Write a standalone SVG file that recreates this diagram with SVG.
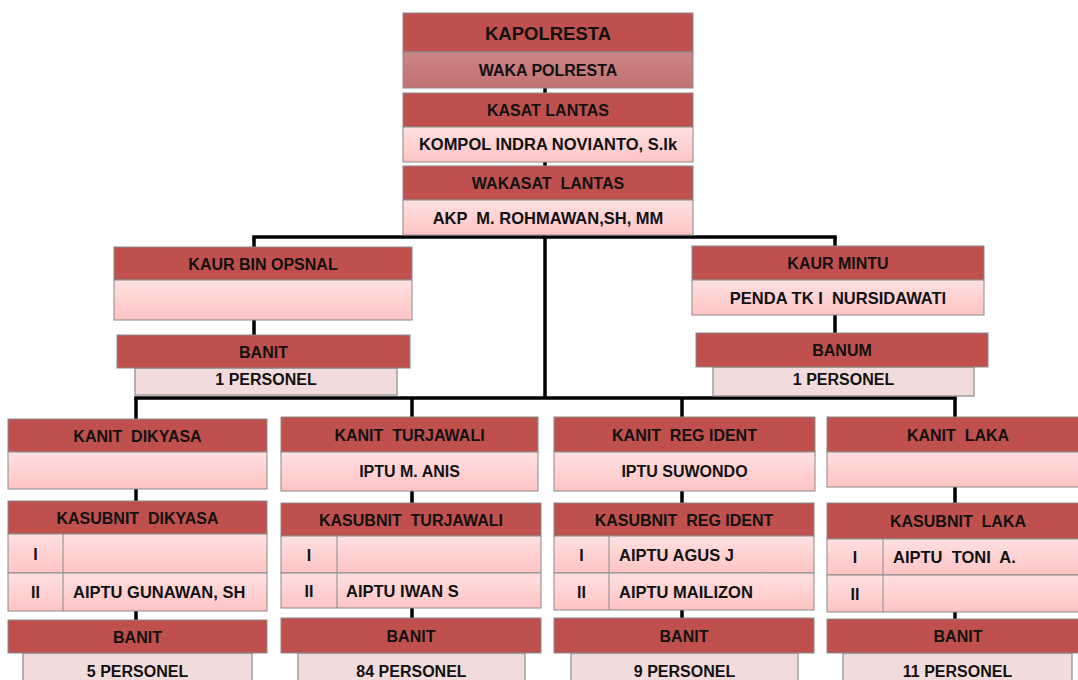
<svg xmlns="http://www.w3.org/2000/svg" width="1078" height="680" viewBox="0 0 1078 680">
<defs>
<linearGradient id="gLight" x1="0" y1="0" x2="0" y2="1">
<stop offset="0" stop-color="#FFE0E0"/>
<stop offset="1" stop-color="#FFC4C4"/>
</linearGradient>
<linearGradient id="gWaka" x1="0" y1="0" x2="0" y2="1">
<stop offset="0" stop-color="#CB8586"/>
<stop offset="1" stop-color="#C27172"/>
</linearGradient>
<style>
.h{fill:#C0504D;stroke:#8A8A8A;stroke-width:1}
.l{fill:url(#gLight);stroke:#8A8A8A;stroke-width:1}
.w{fill:url(#gWaka);stroke:#8A8A8A;stroke-width:1}
.p{fill:#F2DCDB;stroke:#8A8A8A;stroke-width:1.2}
.d{stroke:#8A8A8A;stroke-width:1;fill:none}
text{font-family:"Liberation Sans",Arial,sans-serif;font-weight:bold;font-size:16px;fill:#111111;white-space:pre}
.c{text-anchor:middle}
.big{font-size:18.5px}
.n{font-size:16.5px}
#connectors line{stroke:#000;stroke-width:3.5}
</style>
</defs>
<rect width="1078" height="680" fill="#FFFFFF"/>

<g id="connectors">
<line x1="545" y1="88" x2="545" y2="93"/>
<line x1="545" y1="162" x2="545" y2="166"/>
<line x1="545" y1="235" x2="545" y2="398"/>
<line x1="252.25" y1="237" x2="836.75" y2="237"/>
<line x1="254" y1="237" x2="254" y2="247"/>
<line x1="835" y1="237" x2="835" y2="246"/>
<line x1="254" y1="320" x2="254" y2="335"/>
<line x1="835" y1="315" x2="835" y2="333"/>
<line x1="134.25" y1="398" x2="956.75" y2="398"/>
<line x1="136" y1="398" x2="136" y2="419"/>
<line x1="412" y1="398" x2="412" y2="417"/>
<line x1="682" y1="398" x2="682" y2="417"/>
<line x1="955" y1="398" x2="955" y2="417"/>
<line x1="136" y1="489" x2="136" y2="501"/>
<line x1="412" y1="491" x2="412" y2="503"/>
<line x1="682" y1="491" x2="682" y2="503"/>
<line x1="955" y1="487" x2="955" y2="503"/>
<line x1="136" y1="611" x2="136" y2="620"/>
<line x1="412" y1="608" x2="412" y2="618"/>
<line x1="682" y1="610" x2="682" y2="618"/>
<line x1="955" y1="612" x2="955" y2="619"/>
</g>

<g id="kapolresta">
<rect class="h" x="403" y="13" width="290" height="39"/>
<text class="c big" x="548" y="40">KAPOLRESTA</text>
<rect class="w" x="403" y="52" width="290" height="36"/>
<text class="c" x="548" y="76">WAKA POLRESTA</text>
</g>

<g id="kasat">
<rect class="h" x="403" y="93" width="290" height="34"/>
<text class="c" x="548" y="116">KASAT LANTAS</text>
<rect class="l" x="403" y="127" width="290" height="35"/>
<text class="c n" x="548" y="150">KOMPOL INDRA NOVIANTO, S.Ik</text>
</g>

<g id="wakasat">
<rect class="h" x="403" y="166" width="290" height="34"/>
<text class="c" x="548" y="189">WAKASAT  LANTAS</text>
<rect class="l" x="403" y="200" width="290" height="35"/>
<text class="c n" x="548" y="223.5">AKP  M. ROHMAWAN,SH, MM</text>
</g>

<g id="kaur-bin-opsnal">
<rect class="h" x="114" y="247" width="298" height="33"/>
<text class="c" x="263" y="269.5">KAUR BIN OPSNAL</text>
<rect class="l" x="114" y="280" width="298" height="40"/>
</g>

<g id="banit-opsnal">
<rect class="p" x="135" y="368" width="262" height="27"/>
<text class="c" x="266" y="385">1 PERSONEL</text>
<rect class="h" x="117" y="335" width="293" height="33"/>
<text class="c" x="263.5" y="357.5">BANIT</text>
</g>

<g id="kaur-mintu">
<rect class="h" x="692" y="246" width="292" height="34"/>
<text class="c" x="838" y="269">KAUR MINTU</text>
<rect class="l" x="692" y="280" width="292" height="35"/>
<text class="c n" x="838" y="303.5">PENDA TK I  NURSIDAWATI</text>
</g>

<g id="banum">
<rect class="p" x="713" y="367" width="261" height="29"/>
<text class="c" x="843.5" y="385">1 PERSONEL</text>
<rect class="h" x="696" y="333" width="292" height="34"/>
<text class="c" x="842" y="356">BANUM</text>
</g>

<!-- Column 1 -->
<g id="kanit-dikyasa">
<rect class="h" x="8" y="419" width="259" height="33"/>
<text class="c" x="137.5" y="441.5">KANIT  DIKYASA</text>
<rect class="l" x="8" y="452" width="259" height="37"/>
</g>
<g id="kasubnit-dikyasa">
<rect class="h" x="8" y="501" width="259" height="33"/>
<text class="c" x="137.5" y="523.5">KASUBNIT  DIKYASA</text>
<rect class="l" x="8" y="534" width="259" height="39"/>
<rect class="l" x="8" y="573" width="259" height="38"/>
<line class="d" x1="63" y1="534" x2="63" y2="611"/>
<text class="c" x="35.5" y="559.5">I</text>
<text class="c" x="35.5" y="598">II</text>
<text class="n" x="73" y="598">AIPTU GUNAWAN, SH</text>
</g>
<g id="banit-dikyasa">
<rect class="p" x="23" y="653" width="229" height="30"/>
<text class="c" x="137.5" y="677">5 PERSONEL</text>
<rect class="h" x="8" y="620" width="259" height="33"/>
<text class="c" x="137.5" y="642.5">BANIT</text>
</g>

<!-- Column 2 -->
<g id="kanit-turjawali">
<rect class="h" x="281" y="417" width="257" height="35"/>
<text class="c" x="409.5" y="440.5">KANIT  TURJAWALI</text>
<rect class="l" x="281" y="452" width="257" height="39"/>
<text class="c" x="409.5" y="476.5">IPTU M. ANIS</text>
</g>
<g id="kasubnit-turjawali">
<rect class="h" x="281" y="503" width="260" height="33"/>
<text class="c" x="411" y="525.5">KASUBNIT  TURJAWALI</text>
<rect class="l" x="281" y="536" width="260" height="37"/>
<rect class="l" x="281" y="573" width="260" height="35"/>
<line class="d" x1="337" y1="536" x2="337" y2="608"/>
<text class="c" x="309" y="560.5">I</text>
<text class="c" x="309" y="596.5">II</text>
<text class="n" x="346" y="596.5">AIPTU IWAN S</text>
</g>
<g id="banit-turjawali">
<rect class="p" x="298" y="653" width="227" height="30"/>
<text class="c" x="411.5" y="677">84 PERSONEL</text>
<rect class="h" x="281" y="618" width="260" height="35"/>
<text class="c" x="411" y="641.5">BANIT</text>
</g>

<!-- Column 3 -->
<g id="kanit-reg-ident">
<rect class="h" x="554" y="417" width="261" height="35"/>
<text class="c" x="684.5" y="440.5">KANIT  REG IDENT</text>
<rect class="l" x="554" y="452" width="261" height="39"/>
<text class="c" x="684.5" y="476.5">IPTU SUWONDO</text>
</g>
<g id="kasubnit-reg-ident">
<rect class="h" x="554" y="503" width="260" height="33"/>
<text class="c" x="684" y="525.5">KASUBNIT  REG IDENT</text>
<rect class="l" x="554" y="536" width="260" height="37"/>
<rect class="l" x="554" y="573" width="260" height="37"/>
<line class="d" x1="609" y1="536" x2="609" y2="610"/>
<text class="c" x="581.5" y="560.5">I</text>
<text class="c" x="581.5" y="597.5">II</text>
<text class="n" x="619" y="560.5">AIPTU AGUS J</text>
<text class="n" x="619" y="597.5">AIPTU MAILIZON</text>
</g>
<g id="banit-reg-ident">
<rect class="p" x="571" y="653" width="227" height="30"/>
<text class="c" x="684.5" y="677">9 PERSONEL</text>
<rect class="h" x="554" y="618" width="260" height="35"/>
<text class="c" x="684" y="641.5">BANIT</text>
</g>

<!-- Column 4 -->
<g id="kanit-laka">
<rect class="h" x="827" y="417" width="262" height="35"/>
<text class="c" x="958" y="440.5">KANIT  LAKA</text>
<rect class="l" x="827" y="452" width="262" height="35"/>
</g>
<g id="kasubnit-laka">
<rect class="h" x="827" y="503" width="262" height="36"/>
<text class="c" x="958" y="527">KASUBNIT  LAKA</text>
<rect class="l" x="827" y="539" width="262" height="36"/>
<rect class="l" x="827" y="575" width="262" height="37"/>
<line class="d" x1="883" y1="539" x2="883" y2="612"/>
<text class="c" x="855" y="563">I</text>
<text class="c" x="855" y="599.5">II</text>
<text class="n" x="893" y="563">AIPTU  TONI  A.</text>
</g>
<g id="banit-laka">
<rect class="p" x="843" y="653" width="229" height="30"/>
<text class="c" x="957.5" y="677">11 PERSONEL</text>
<rect class="h" x="827" y="619" width="262" height="34"/>
<text class="c" x="958" y="642">BANIT</text>
</g>
</svg>
